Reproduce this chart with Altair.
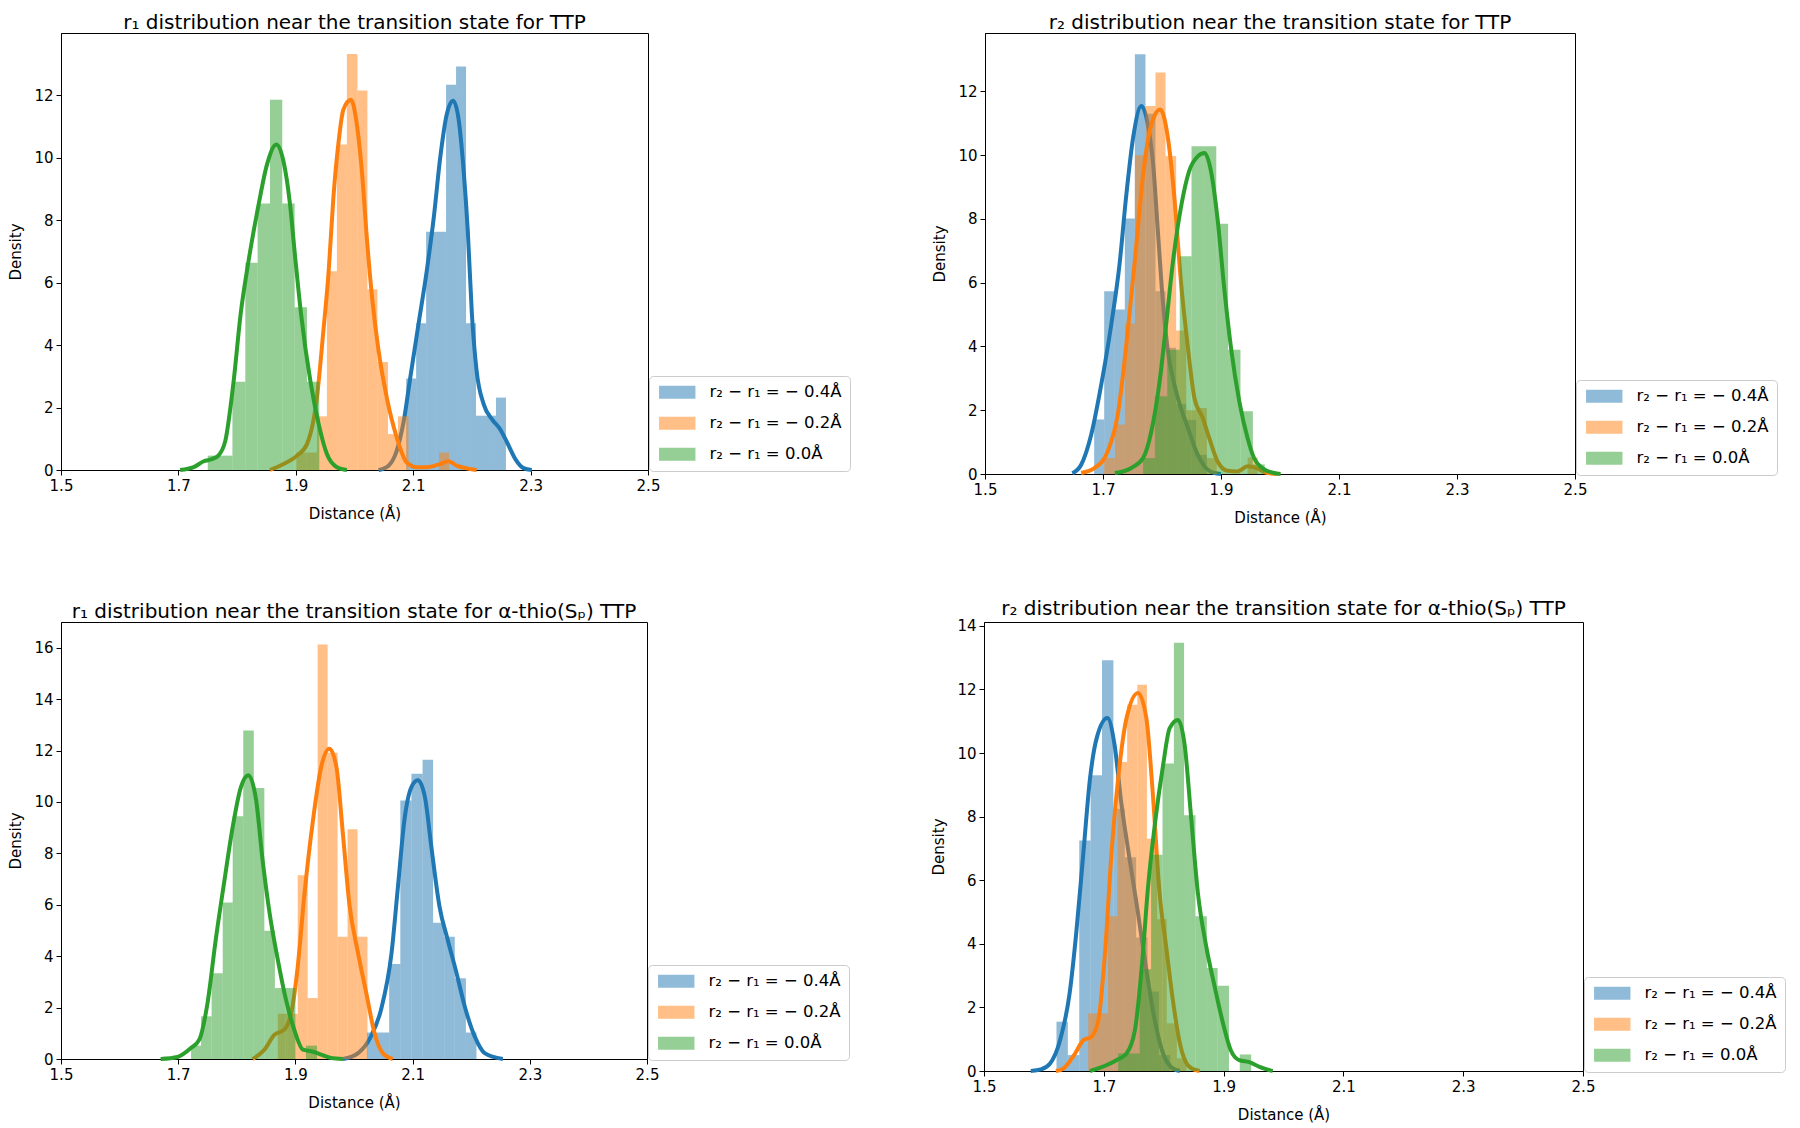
import altair as alt
import pandas as pd

# ---------------- shared labels ----------------
SERIES = ["r\u2082 \u2212 r\u2081 = \u2212 0.4\u00c5", "r\u2082 \u2212 r\u2081 = \u2212 0.2\u00c5", "r\u2082 \u2212 r\u2081 = 0.0\u00c5"]
COLORS = ["#1f77b4", "#ff7f0e", "#2ca02c"]
X_TICKS = [1.5, 1.7, 1.9, 2.1, 2.3, 2.5]
TITLES = [
    "r\u2081 distribution near the transition state for TTP",
    "r\u2082 distribution near the transition state for TTP",
    "r\u2081 distribution near the transition state for \u03b1-thio(S\u209a) TTP",
    "r\u2082 distribution near the transition state for \u03b1-thio(S\u209a) TTP",
]

# ---------------- panel 1 : r1, TTP ----------------
P1_BLUE_EDGES = [2.088, 2.105, 2.122, 2.139, 2.156, 2.173, 2.190, 2.207, 2.224, 2.241, 2.258]
P1_BLUE_HEIGHTS = [2.93, 4.70, 7.63, 7.63, 12.34, 12.93, 4.70, 1.74, 1.74, 2.32]
P1_ORANGE_EDGES = [1.901, 1.918, 1.936, 1.953, 1.970, 1.987, 2.005, 2.022, 2.039, 2.057, 2.074, 2.092, 2.109, 2.126, 2.144, 2.161]
P1_ORANGE_HEIGHTS = [0.56, 0.56, 1.72, 6.37, 10.43, 13.33, 12.16, 5.79, 3.46, 1.15, 1.72, 0, 0, 0, 0.56]
P1_GREEN_EDGES = [1.750, 1.771, 1.792, 1.814, 1.835, 1.856, 1.877, 1.898, 1.919, 1.940]
P1_GREEN_HEIGHTS = [0.46, 0.46, 2.83, 6.64, 8.54, 11.86, 8.54, 5.21, 2.83]

P1_BLUE_KDE_X = [2.041, 2.058, 2.072, 2.084, 2.095, 2.109, 2.123, 2.135, 2.146, 2.157, 2.168, 2.177, 2.186, 2.193, 2.200, 2.208, 2.220, 2.234, 2.248, 2.260, 2.274, 2.288, 2.302]
P1_BLUE_KDE_Y = [0, 0.14, 0.62, 1.58, 2.96, 4.67, 6.37, 8.08, 10.0, 11.38, 11.83, 11.28, 9.57, 7.65, 4.99, 3.18, 2.11, 1.63, 1.31, 0.88, 0.35, 0.06, 0]
P1_ORANGE_KDE_X = [1.856, 1.879, 1.902, 1.919, 1.936, 1.947, 1.956, 1.964, 1.973, 1.981, 1.994, 2.004, 2.013, 2.021, 2.030, 2.041, 2.055, 2.072, 2.089, 2.106, 2.123, 2.146, 2.160, 2.174, 2.197, 2.208]
P1_ORANGE_KDE_Y = [0, 0.19, 0.46, 0.83, 2.32, 4.46, 6.37, 8.72, 10.53, 11.54, 11.86, 11.07, 9.47, 7.44, 5.52, 3.82, 2.32, 1.04, 0.24, 0.09, 0.09, 0.19, 0.28, 0.14, 0.03, 0]
P1_GREEN_KDE_X = [1.703, 1.726, 1.743, 1.757, 1.768, 1.780, 1.794, 1.806, 1.819, 1.837, 1.851, 1.867, 1.879, 1.890, 1.899, 1.909, 1.925, 1.939, 1.953, 1.970, 1.987]
P1_GREEN_KDE_Y = [0, 0.09, 0.28, 0.35, 0.46, 0.94, 2.83, 4.99, 6.64, 8.54, 9.79, 10.43, 9.89, 8.54, 6.80, 4.99, 2.83, 1.47, 0.51, 0.09, 0]

# ---------------- panel 2 : r2, TTP ----------------
P2_BLUE_EDGES = [1.685, 1.702, 1.720, 1.737, 1.754, 1.772, 1.789, 1.806, 1.824, 1.841, 1.858, 1.876]
P2_BLUE_HEIGHTS = [1.71, 5.73, 5.16, 8.01, 13.16, 11.3, 5.73, 3.96, 2.2, 1.7, 0.6]
P2_ORANGE_EDGES = [1.685, 1.702, 1.720, 1.737, 1.754, 1.772, 1.789, 1.806, 1.824, 1.841, 1.858, 1.876, 1.893, 1.910, 1.928, 1.945, 1.962]
P2_ORANGE_HEIGHTS = [0, 0.5, 1.55, 4.72, 10.0, 11.54, 12.59, 9.97, 4.5, 2.0, 2.07, 0.5, 0, 0, 0, 0.52]
P2_GREEN_EDGES = [1.768, 1.788, 1.809, 1.830, 1.850, 1.871, 1.892, 1.912, 1.933, 1.954, 1.974]
P2_GREEN_HEIGHTS = [0.5, 2.44, 3.9, 6.83, 10.28, 10.28, 7.85, 3.9, 1.97, 0.3]

P2_BLUE_KDE_X = [1.648, 1.663, 1.680, 1.697, 1.714, 1.728, 1.739, 1.751, 1.765, 1.776, 1.785, 1.793, 1.801, 1.810, 1.821, 1.832, 1.844, 1.858, 1.872, 1.889, 1.900]
P2_BLUE_KDE_Y = [0.02, 0.29, 1.23, 2.80, 4.69, 6.57, 8.66, 10.54, 11.54, 10.96, 9.71, 7.62, 5.52, 3.85, 2.80, 2.07, 1.44, 0.71, 0.24, 0.03, 0]
P2_ORANGE_KDE_X = [1.663, 1.686, 1.708, 1.725, 1.742, 1.756, 1.768, 1.782, 1.797, 1.810, 1.821, 1.832, 1.844, 1.855, 1.869, 1.880, 1.894, 1.911, 1.928, 1.945, 1.959, 1.979, 1.996]
P2_ORANGE_KDE_Y = [0.03, 0.19, 0.71, 1.86, 4.48, 7.09, 9.39, 10.96, 11.43, 10.54, 8.66, 6.05, 3.95, 2.38, 1.76, 1.13, 0.40, 0.10, 0.08, 0.24, 0.19, 0.03, 0]
P2_GREEN_KDE_X = [1.720, 1.748, 1.768, 1.782, 1.796, 1.807, 1.818, 1.832, 1.846, 1.861, 1.872, 1.883, 1.894, 1.906, 1.917, 1.931, 1.945, 1.956, 1.970, 1.990, 2.001]
P2_GREEN_KDE_Y = [0.03, 0.19, 0.5, 1.34, 2.91, 4.69, 6.57, 8.35, 9.50, 9.97, 10.07, 9.50, 8.03, 5.73, 3.95, 2.28, 1.13, 0.50, 0.19, 0.03, 0]

# ---------------- panel 3 : r1, alpha-thio ----------------
P3_BLUE_EDGES = [2.022, 2.041, 2.060, 2.079, 2.098, 2.117, 2.135, 2.154, 2.172, 2.191, 2.209]
P3_BLUE_HEIGHTS = [1.03, 1.03, 3.70, 10.06, 11.10, 11.64, 5.30, 4.76, 3.14, 1.03]
P3_ORANGE_EDGES = [1.870, 1.887, 1.904, 1.921, 1.938, 1.955, 1.972, 1.989, 2.006, 2.023]
P3_ORANGE_HEIGHTS = [1.76, 1.76, 7.15, 2.37, 16.12, 11.91, 4.76, 8.94, 4.76]
P3_GREEN_EDGES = [1.722, 1.739, 1.757, 1.776, 1.793, 1.811, 1.829, 1.847, 1.865, 1.883, 1.900, 1.918, 1.937]
P3_GREEN_HEIGHTS = [0.52, 1.66, 3.34, 6.09, 9.44, 12.78, 10.54, 4.99, 2.76, 2.76, 0, 0.52]

P3_BLUE_KDE_X = [1.981, 2.007, 2.029, 2.046, 2.064, 2.075, 2.086, 2.098, 2.109, 2.121, 2.132, 2.146, 2.160, 2.175, 2.189, 2.206, 2.223, 2.254]
P3_BLUE_KDE_Y = [0, 0.23, 0.88, 1.91, 4.11, 6.70, 9.29, 10.58, 10.84, 10.19, 8.25, 5.92, 4.63, 3.34, 2.04, 0.88, 0.23, 0]
P3_ORANGE_KDE_X = [1.827, 1.847, 1.864, 1.881, 1.893, 1.904, 1.915, 1.930, 1.944, 1.958, 1.970, 1.981, 1.992, 2.007, 2.021, 2.035, 2.049, 2.066]
P3_ORANGE_KDE_Y = [0, 0.36, 0.94, 1.14, 1.79, 3.60, 6.31, 9.29, 11.36, 12.07, 11.36, 8.77, 6.05, 4.11, 2.56, 1.01, 0.23, 0]
P3_GREEN_KDE_X = [1.670, 1.699, 1.722, 1.736, 1.750, 1.764, 1.779, 1.793, 1.807, 1.820, 1.833, 1.844, 1.856, 1.870, 1.884, 1.898, 1.913, 1.927, 1.944, 1.961, 1.981]
P3_GREEN_KDE_Y = [0, 0.08, 0.43, 0.75, 2.17, 4.63, 6.96, 9.03, 10.58, 11.04, 10.06, 7.74, 5.67, 3.86, 2.30, 1.14, 0.36, 0.30, 0.17, 0.04, 0]

# ---------------- panel 4 : r2, alpha-thio ----------------
P4_BLUE_EDGES = [1.621, 1.640, 1.659, 1.678, 1.697, 1.716, 1.735, 1.754, 1.773, 1.792, 1.811]
P4_BLUE_HEIGHTS = [1.55, 0.5, 7.25, 9.30, 12.92, 8.25, 6.72, 4.2, 2.5, 0.5]
P4_ORANGE_EDGES = [1.674, 1.690, 1.707, 1.723, 1.739, 1.756, 1.772, 1.789, 1.805, 1.822, 1.838]
P4_ORANGE_HEIGHTS = [1.81, 1.81, 4.87, 9.72, 11.52, 12.15, 7.3, 4.77, 1.5, 0.4]
P4_GREEN_EDGES = [1.724, 1.742, 1.760, 1.779, 1.798, 1.817, 1.834, 1.853, 1.872, 1.890, 1.909, 1.927, 1.946]
P4_GREEN_HEIGHTS = [0.55, 0.55, 3.2, 6.8, 9.67, 13.47, 8.04, 4.87, 3.24, 2.68, 0, 0.52]

P4_BLUE_KDE_X = [1.578, 1.595, 1.610, 1.627, 1.643, 1.654, 1.666, 1.677, 1.688, 1.706, 1.718, 1.729, 1.743, 1.757, 1.771, 1.785, 1.799, 1.816, 1.827]
P4_BLUE_KDE_Y = [0, 0.05, 0.23, 0.97, 2.45, 4.34, 6.88, 9.20, 10.46, 11.1, 10.25, 8.46, 6.67, 4.98, 3.18, 1.60, 0.55, 0.07, 0]
P4_ORANGE_KDE_X = [1.620, 1.632, 1.652, 1.666, 1.679, 1.691, 1.702, 1.713, 1.724, 1.738, 1.757, 1.771, 1.782, 1.793, 1.804, 1.816, 1.827, 1.843, 1.860]
P4_ORANGE_KDE_Y = [0, 0.07, 0.55, 0.97, 1.07, 1.60, 3.71, 6.88, 9.20, 11.10, 11.89, 11.10, 8.67, 5.61, 3.92, 2.13, 0.87, 0.13, 0]
P4_GREEN_KDE_X = [1.677, 1.704, 1.721, 1.738, 1.752, 1.763, 1.774, 1.785, 1.799, 1.810, 1.824, 1.835, 1.846, 1.857, 1.871, 1.885, 1.899, 1.912, 1.926, 1.943, 1.960, 1.982]
P4_GREEN_KDE_Y = [0, 0.18, 0.34, 0.55, 1.29, 3.18, 5.82, 7.72, 9.62, 10.78, 11.04, 10.25, 7.93, 5.61, 3.92, 2.66, 1.50, 0.65, 0.34, 0.28, 0.13, 0]

Y_MAX = [14.0, 13.83, 17.0, 14.12]
Y_TICKS = [
    [0, 2, 4, 6, 8, 10, 12],
    [0, 2, 4, 6, 8, 10, 12],
    [0, 2, 4, 6, 8, 10, 12, 14, 16],
    [0, 2, 4, 6, 8, 10, 12, 14],
]

FONT = "DejaVu Sans"


def bars_df(edges, heights, series):
    return pd.DataFrame({"x": edges[:-1], "x2": edges[1:], "y": heights, "series": series})


def kde_df(xs, ys):
    return pd.DataFrame({"x": xs, "y": ys})


def panel(idx, series_data, w, h):
    legend = alt.Legend(
        title=None, orient="none", legendX=w + 1, legendY=h - 94,
        symbolType="M-2.8,-1H2.8V1H-2.8Z", symbolSize=169, symbolOpacity=0.5,
        symbolStrokeWidth=0, symbolOffset=12, labelOffset=24,
        labelFontSize=16.5, labelFont=FONT, labelColor="black", labelLimit=400,
        rowPadding=14, padding=8, strokeColor="#cccccc", fillColor="white",
        cornerRadius=4,
    )
    xenc = alt.X("x:Q", scale=alt.Scale(domain=[1.5, 2.5], nice=False, zero=False),
                 axis=alt.Axis(values=X_TICKS, format=".1f", title="Distance (\u00c5)",
                               labelFlush=False, grid=False, titlePadding=13))
    yenc = alt.Y("y:Q", scale=alt.Scale(domain=[0, Y_MAX[idx]], nice=False),
                 axis=alt.Axis(values=Y_TICKS[idx], title="Density", grid=False, titlePadding=10))
    layers = []
    for i, (edges, heights, kx, ky) in enumerate(series_data):
        bars = alt.Chart(bars_df(edges, heights, SERIES[i])).mark_rect(opacity=0.5, strokeWidth=0).encode(
            x=xenc, x2="x2:Q", y=yenc, y2=alt.datum(0),
            color=alt.Color("series:N", scale=alt.Scale(domain=SERIES, range=COLORS), legend=legend),
        )
        line = alt.Chart(kde_df(kx, ky)).mark_line(
            color=COLORS[i], strokeWidth=4, interpolate="monotone"
        ).encode(x=xenc, y=yenc)
        layers += [bars, line]
    return alt.layer(*layers).properties(
        width=w, height=h,
        title=alt.TitleParams(TITLES[idx], fontSize=20, font=FONT, fontWeight="normal",
                              anchor="middle", offset=0, color="black"),
    )


p1 = panel(0, [
    (P1_BLUE_EDGES, P1_BLUE_HEIGHTS, P1_BLUE_KDE_X, P1_BLUE_KDE_Y),
    (P1_ORANGE_EDGES, P1_ORANGE_HEIGHTS, P1_ORANGE_KDE_X, P1_ORANGE_KDE_Y),
    (P1_GREEN_EDGES, P1_GREEN_HEIGHTS, P1_GREEN_KDE_X, P1_GREEN_KDE_Y),
], 587, 437)
p2 = panel(1, [
    (P2_BLUE_EDGES, P2_BLUE_HEIGHTS, P2_BLUE_KDE_X, P2_BLUE_KDE_Y),
    (P2_ORANGE_EDGES, P2_ORANGE_HEIGHTS, P2_ORANGE_KDE_X, P2_ORANGE_KDE_Y),
    (P2_GREEN_EDGES, P2_GREEN_HEIGHTS, P2_GREEN_KDE_X, P2_GREEN_KDE_Y),
], 590, 441)
p3 = panel(2, [
    (P3_BLUE_EDGES, P3_BLUE_HEIGHTS, P3_BLUE_KDE_X, P3_BLUE_KDE_Y),
    (P3_ORANGE_EDGES, P3_ORANGE_HEIGHTS, P3_ORANGE_KDE_X, P3_ORANGE_KDE_Y),
    (P3_GREEN_EDGES, P3_GREEN_HEIGHTS, P3_GREEN_KDE_X, P3_GREEN_KDE_Y),
], 586, 437)
p4 = panel(3, [
    (P4_BLUE_EDGES, P4_BLUE_HEIGHTS, P4_BLUE_KDE_X, P4_BLUE_KDE_Y),
    (P4_ORANGE_EDGES, P4_ORANGE_HEIGHTS, P4_ORANGE_KDE_X, P4_ORANGE_KDE_Y),
    (P4_GREEN_EDGES, P4_GREEN_HEIGHTS, P4_GREEN_KDE_X, P4_GREEN_KDE_Y),
], 599, 449)

H_SPACING_TOP = 81
H_SPACING_BOTTOM = 81
V_SPACING = 72

row1 = alt.hconcat(p1, p2, spacing=H_SPACING_TOP).resolve_scale(color="independent", x="independent", y="independent")
row2 = alt.hconcat(p3, p4, spacing=H_SPACING_BOTTOM).resolve_scale(color="independent", x="independent", y="independent")

chart = alt.vconcat(row1, row2, spacing=V_SPACING).resolve_scale(
    color="independent", x="independent", y="independent"
).properties(
    padding={"left": 0, "top": 4, "right": 0, "bottom": 2}
).configure_axis(
    labelFontSize=15, titleFontSize=15, labelFont=FONT, titleFont=FONT,
    titleFontWeight="normal", labelColor="black", titleColor="black",
    domainColor="black", tickColor="black", tickSize=5, grid=False,
    labelPadding=3,
).configure_view(stroke="black", strokeWidth=1)

chart.save("out.html", embed_options={"renderer": "svg", "actions": False})
